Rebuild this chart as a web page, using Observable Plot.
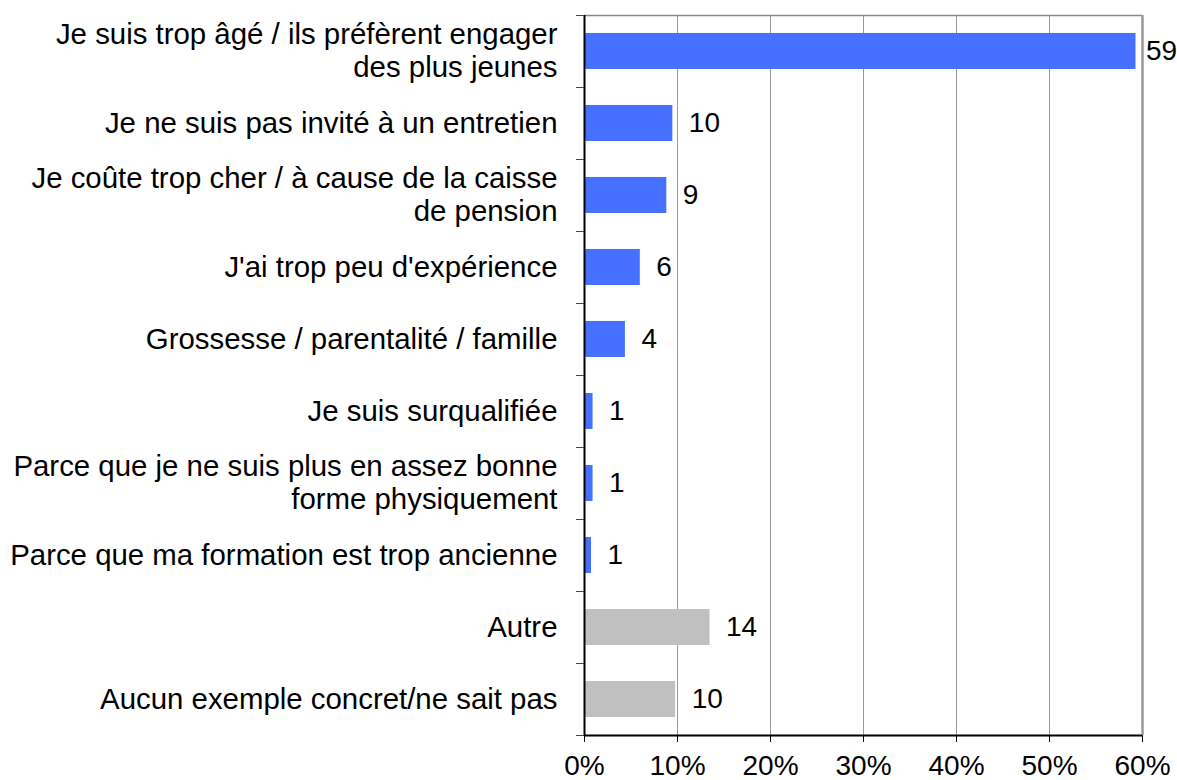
<!DOCTYPE html>
<html><head><meta charset="utf-8">
<script src="https://cdn.jsdelivr.net/npm/d3@7"></script>
<script src="https://cdn.jsdelivr.net/npm/@observablehq/plot@0.6"></script>
<style>body{margin:0;background:#fff}</style>
</head><body><div id="chart"></div>
<script>
const categories = [
  "Je suis trop âgé / ils préfèrent engager\ndes plus jeunes",
  "Je ne suis pas invité à un entretien",
  "Je coûte trop cher / à cause de la caisse\nde pension",
  "J'ai trop peu d'expérience",
  "Grossesse / parentalité / famille",
  "Je suis surqualifiée",
  "Parce que je ne suis plus en assez bonne\nforme physiquement",
  "Parce que ma formation est trop ancienne",
  "Autre",
  "Aucun exemple concret/ne sait pas"
];
const values = [59.3, 9.5, 8.85, 6.0, 4.4, 0.92, 0.92, 0.75, 13.5, 9.8];
const valueLabels = ["59", "10", "9", "6", "4", "1", "1", "1", "14", "10"];
const groups = ["reason", "reason", "reason", "reason", "reason", "reason", "reason", "reason", "other", "other"];
const xTicks = [0, 10, 20, 30, 40, 50, 60];

const data = categories.map((c, i) => ({cat: c, idx: i, v: values[i], label: valueLabels[i], group: groups[i]}));
const lineRecords = data.flatMap(d => {
  const ls = d.cat.split("\n");
  return ls.map((l, k) => ({idx: d.idx, line: l, k, n: ls.length}));
});
const font = "'Liberation Sans', Arial, sans-serif";
const catText = {x: 0, y: d => d.idx + 0.5, text: "line", textAnchor: "end", dx: -27, fontSize: 29.4, fill: "#000"};

const chart = Plot.plot({
  width: 1177, height: 780,
  marginTop: 15, marginBottom: 45, marginLeft: 584, marginRight: 35,
  style: {fontFamily: font, fontSize: "28px", color: "#000", background: "#fff"},
  x: {domain: [0, 60], label: null},
  y: {domain: [0, 10], reverse: true, label: null},
  color: {domain: ["reason", "other"], range: ["#4670FF", "#C0C0C0"]},
  marks: [
    Plot.gridX(xTicks.slice(1, -1), {stroke: "#999", strokeOpacity: 1, strokeWidth: 1}),
    Plot.ruleY([0], {stroke: "#888", strokeWidth: 1.5}),
    Plot.ruleX([60], {stroke: "#999", strokeWidth: 2.5}),
    Plot.rectX(data, {x1: 0, x2: "v", y1: d => d.idx + 0.25, y2: d => d.idx + 0.75, fill: "group"}),
    Plot.ruleX([0], {stroke: "#000", strokeWidth: 2}),
    Plot.ruleY([10], {stroke: "#000", strokeWidth: 2}),
    Plot.axisX({ticks: xTicks, tickSize: 7, tickPadding: 13, tickFormat: d => d + "%", fontSize: 28, label: null}),
    Plot.axisY({ticks: d3.range(0, 11), tickSize: 8, tickFormat: () => "", stroke: "#444", label: null}),
    Plot.text(lineRecords.filter(r => r.n === 1), {...catText, dy: 0}),
    Plot.text(lineRecords.filter(r => r.n === 2 && r.k === 0), {...catText, dy: -16.5}),
    Plot.text(lineRecords.filter(r => r.n === 2 && r.k === 1), {...catText, dy: 16.5}),
    Plot.text(data.filter(d => d.v < 50), {x: "v", y: d => d.idx + 0.5, text: "label", textAnchor: "start", dx: 16, fontSize: 28, fill: "#000"}),
    Plot.text(data.filter(d => d.v >= 50), {x: "v", y: d => d.idx + 0.5, text: "label", textAnchor: "start", dx: 10, fontSize: 28, fill: "#000"})
  ]
});
document.getElementById("chart").appendChild(chart);
</script>
</body></html>
